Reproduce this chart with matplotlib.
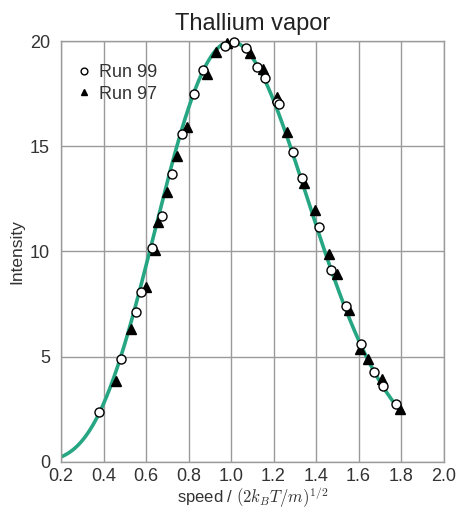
import numpy as np
import matplotlib.pyplot as plt

# Run 99 (open circles)
run99_x = [0.38, 0.482, 0.552, 0.575, 0.63, 0.675, 0.722, 0.769, 0.826, 0.87,
           0.972, 1.012, 1.07, 1.124, 1.161, 1.215, 1.227, 1.29, 1.334, 1.412,
           1.469, 1.54, 1.612, 1.673, 1.714, 1.775]
run99_y = [2.36, 4.89, 7.12, 8.06, 10.19, 11.67, 13.67, 15.6, 17.48, 18.65,
           19.79, 19.98, 19.7, 18.77, 18.25, 17.13, 17.0, 14.75, 13.48, 11.15,
           9.14, 7.39, 5.59, 4.26, 3.58, 2.73]

# Run 97 (filled triangles)
run97_x = [0.457, 0.529, 0.6, 0.644, 0.655, 0.697, 0.747, 0.792, 0.887, 0.928,
           0.98, 1.089, 1.149, 1.218, 1.265, 1.344, 1.394, 1.461, 1.5, 1.555,
           1.607, 1.643, 1.709, 1.795]
run97_y = [3.83, 6.33, 8.31, 10.09, 11.4, 12.85, 14.56, 15.92, 18.47, 19.5,
           19.95, 19.44, 18.7, 17.35, 15.7, 13.26, 11.96, 9.9, 8.95, 7.2,
           5.38, 4.86, 3.91, 2.5]

# theory curve: peak-normalised speed distribution
peak = 20.0
def theory(x):
    return peak * x**4 * np.exp(2 - 2 * x**2)

xs = np.linspace(0.2, 1.8, 300)

plt.rcParams['font.family'] = ['Liberation Sans', 'DejaVu Sans']
plt.rcParams['mathtext.fontset'] = 'cm'
fig = plt.figure(figsize=(4.57, 5.12), dpi=100)
ax = fig.add_axes([0.1335, 0.0986, 0.837, 0.8204])

ax.plot(xs, theory(xs), color='#27a683', lw=2.6, zorder=2)
ax.plot(run97_x, run97_y, '^', color='black', ms=6.5, zorder=3, label='Run 97',
        clip_on=False)
ax.plot(run99_x, run99_y, 'o', mfc='white', mec='black', mew=1.0, ms=6.5,
        zorder=4, label='Run 99', clip_on=False)

ax.set_xlim(0.2, 2.0)
ax.set_ylim(0, 20)
ax.set_xticks(np.arange(0.2, 2.01, 0.2))
ax.set_xticklabels(['0.2', '0.4', '0.6', '0.8', '1.0', '1.2', '1.4', '1.6', '1.8', '2.0'])
ax.set_yticks([0, 5, 10, 15, 20])
ax.grid(True, color='#9a9a9a', lw=1.0)
ax.set_axisbelow(True)
for s in ax.spines.values():
    s.set_color('#9a9a9a')
    s.set_linewidth(1.0)
ax.tick_params(length=0, labelsize=13, colors='#333333')
ax.tick_params(axis='x', pad=5)
ax.tick_params(axis='y', pad=8)

ax.set_title('Thallium vapor', fontsize=17, color='#222222', pad=8)
ax.set_ylabel('Intensity', fontsize=12.5, color='#333333', labelpad=4)
ax.set_xlabel(r'speed / $(2k_BT/m)^{1/2}$', fontsize=12, color='#333333', labelpad=0)

h, l = ax.get_legend_handles_labels()
leg = ax.legend(h[::-1], l[::-1], loc='upper left', bbox_to_anchor=(0.0, 0.985),
                frameon=False, fontsize=13, handlelength=0.7, handletextpad=0.5,
                labelspacing=0.25, markerscale=0.75)
for t in leg.get_texts():
    t.set_color('#333333')

fig.savefig('out.png', dpi=100)
